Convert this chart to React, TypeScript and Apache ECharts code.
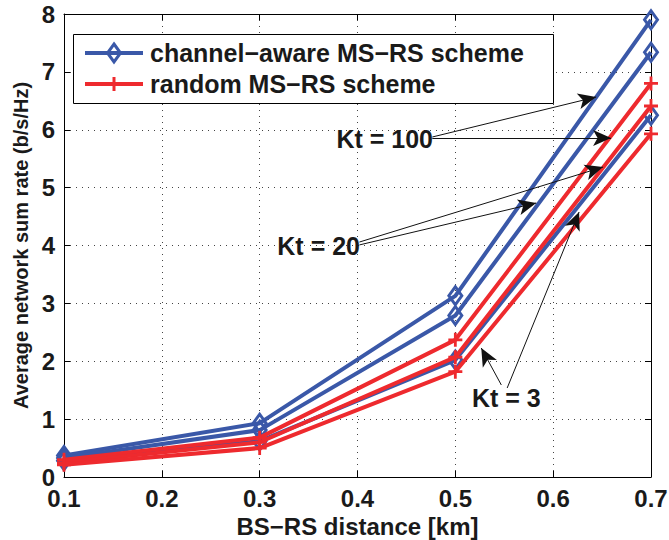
import React, { useEffect, useRef } from "react";
import * as echarts from "echarts";

const distances = [0.1, 0.3, 0.5, 0.7];
const awareKt100 = [0.37, 0.93, 3.13, 7.9];
const awareKt20 = [0.33, 0.81, 2.79, 7.34];
const awareKt3 = [0.28, 0.62, 2.02, 6.25];
const randomKt100 = [0.3, 0.68, 2.37, 6.8];
const randomKt20 = [0.25, 0.6, 2.07, 6.41];
const randomKt3 = [0.21, 0.5, 1.82, 5.93];

const xTicks = [0.1, 0.2, 0.3, 0.4, 0.5, 0.6, 0.7];
const yTicks = [0, 1, 2, 3, 4, 5, 6, 7, 8];

const legendNames = ["channel\u2212aware MS\u2212RS scheme", "random MS\u2212RS scheme"];

// annotation arrows: [fromX, fromY, toX, toY] in data space
const arrowsKt100 = [
  [0.4765, 5.875, 0.6439, 6.566],
  [0.4765, 5.857, 0.6592, 5.857],
];
const arrowsKt20 = [
  [0.402, 4.06, 0.651, 5.356],
  [0.402, 4.01, 0.5827, 4.734],
];
const arrowsKt3 = [
  [0.547, 1.59, 0.5265, 2.229],
  [0.553, 1.538, 0.6265, 4.579],
];
const annotationTexts = ["Kt = 100", "Kt = 20", "Kt = 3"];

const BLUE = "#3a58a8";
const RED = "#ee2a2e";
const FONT = "'Liberation Sans', Arial, sans-serif";
const PLUS = "path://M-1.2,-6H1.2V-1.2H6V1.2H1.2V6H-1.2V1.2H-6V-1.2H-1.2Z";

export default function App() {
  const ref = useRef<HTMLDivElement>(null);
  useEffect(() => {
    if (!ref.current) return;
    const chart = echarts.init(ref.current, null, { renderer: "svg" });
    const mk = (arr: number[]) => distances.map((d, i) => [d, arr[i]]);
    const blueSeries = (name: string, vals: number[]) => ({
      type: "line",
      name,
      data: mk(vals),
      symbol: "diamond",
      symbolSize: [13, 18],
      showSymbol: true,
      lineStyle: { color: BLUE, width: 4 },
      itemStyle: { color: "rgba(255,255,255,0)", borderColor: BLUE, borderWidth: 3 },
      z: 3,
    });
    const redSeries = (name: string, vals: number[]) => ({
      type: "line",
      name,
      data: mk(vals),
      symbol: PLUS,
      symbolSize: 14,
      lineStyle: { color: RED, width: 4 },
      itemStyle: { color: RED },
      z: 4,
    });
    const arrowLines = [...arrowsKt100, ...arrowsKt20, ...arrowsKt3].map((a) => [
      { coord: [a[0], a[1]] },
      { coord: [a[2], a[3]] },
    ]);
    const axisLabelStyle = { fontFamily: FONT, fontWeight: "bold", fontSize: 24, color: "#1a1a1a" };
    const option: any = {
      animation: false,
      backgroundColor: "#fff",
      grid: { left: 64, right: 18, top: 14, bottom: 63, outerBoundsMode: "none", containLabel: false },
      xAxis: [
        {
          type: "value",
          min: 0.1,
          max: 0.7,
          interval: 0.1,
          axisLine: { lineStyle: { color: "#000", width: 1 } },
          axisTick: { inside: true, length: 6, lineStyle: { color: "#000" } },
          axisLabel: { ...axisLabelStyle, margin: 11, lineHeight: 20, formatter: (v: number) => v.toFixed(1) },
          splitLine: { show: true, lineStyle: { color: "#444", type: [1, 5], width: 1 } },
          name: "BS\u2212RS distance [km]",
          nameLocation: "middle",
          nameGap: 34,
          nameTextStyle: { fontFamily: FONT, fontWeight: "bold", fontSize: 24, color: "#1a1a1a" },
        },
        {
          type: "value",
          position: "top",
          min: 0.1,
          max: 0.7,
          interval: 0.1,
          axisLine: { show: true, onZero: false, lineStyle: { color: "#000", width: 1 } },
          axisTick: { show: true, inside: true, length: 6, lineStyle: { color: "#000" } },
          axisLabel: { show: false },
          splitLine: { show: false },
        },
      ],
      yAxis: [
        {
          type: "value",
          min: 0,
          max: 8,
          interval: 1,
          axisLine: { show: true, lineStyle: { color: "#000", width: 1 } },
          axisTick: { show: true, inside: true, length: 6, lineStyle: { color: "#000" } },
          axisLabel: { ...axisLabelStyle, margin: 9, lineHeight: 18 },
          splitLine: { show: true, lineStyle: { color: "#444", type: [1, 5], width: 1 } },
          name: "Average network sum rate (b/s/Hz)",
          nameLocation: "middle",
          nameGap: 30,
          nameTextStyle: { fontFamily: FONT, fontWeight: "bold", fontSize: 20, color: "#1a1a1a" },
        },
        {
          type: "value",
          position: "right",
          min: 0,
          max: 8,
          interval: 1,
          axisLine: { show: true, onZero: false, lineStyle: { color: "#000", width: 1 } },
          axisTick: { show: true, inside: true, length: 6, lineStyle: { color: "#000" } },
          axisLabel: { show: false },
          splitLine: { show: false },
        },
      ],
      series: [
        blueSeries("aware100", awareKt100),
        blueSeries("aware20", awareKt20),
        blueSeries("aware3", awareKt3),
        redSeries("random100", randomKt100),
        redSeries("random20", randomKt20),
        redSeries("random3", randomKt3),
        {
          type: "line",
          name: "annotations",
          data: [],
          z: 10,
          markLine: {
            silent: true,
            symbol: ["none", "arrow"],
            symbolSize: [12, 18],
            label: { show: false },
            lineStyle: { color: "#111", width: 1, type: "solid" },
            itemStyle: { color: "#111" },
            data: arrowLines,
          },
        },
      ],
      graphic: [
        {
          type: "rect",
          shape: { x: 73.5, y: 34.5, width: 480, height: 69 },
          style: { fill: "#fff", stroke: "#000", lineWidth: 1 },
          z: 100,
        },
        { type: "line", shape: { x1: 85, y1: 53, x2: 143, y2: 53 }, style: { stroke: BLUE, lineWidth: 4 }, z: 101 },
        {
          type: "polygon",
          shape: { points: [[114, 44], [120.5, 53], [114, 62], [107.5, 53]] },
          style: { fill: "rgba(255,255,255,0)", stroke: BLUE, lineWidth: 3 },
          z: 102,
        },
        { type: "line", shape: { x1: 85, y1: 84, x2: 143, y2: 84 }, style: { stroke: RED, lineWidth: 4 }, z: 101 },
        { type: "line", shape: { x1: 114, y1: 77, x2: 114, y2: 91 }, style: { stroke: RED, lineWidth: 3 }, z: 102 },
        {
          type: "text",
          x: 150,
          y: 53,
          style: { text: legendNames[0], font: `bold 25px ${FONT}`, fill: "#1a1a1a", verticalAlign: "middle" },
          z: 102,
        },
        {
          type: "text",
          x: 150,
          y: 84,
          style: { text: legendNames[1], font: `bold 25px ${FONT}`, fill: "#1a1a1a", verticalAlign: "middle" },
          z: 102,
        },
        {
          type: "text",
          x: 433,
          y: 139,
          style: { text: annotationTexts[0], font: `bold 25px ${FONT}`, fill: "#1a1a1a", align: "right", verticalAlign: "middle" },
          z: 102,
        },
        {
          type: "text",
          x: 360,
          y: 246,
          style: { text: annotationTexts[1], font: `bold 25px ${FONT}`, fill: "#1a1a1a", align: "right", verticalAlign: "middle" },
          z: 102,
        },
        {
          type: "text",
          x: 472,
          y: 398,
          style: { text: annotationTexts[2], font: `bold 25px ${FONT}`, fill: "#1a1a1a", align: "left", verticalAlign: "middle" },
          z: 102,
        },
      ],
    };
    chart.setOption(option);
    return () => chart.dispose();
  }, []);
  return (
    <div
      ref={ref}
      style={{ width: 669, height: 540, position: "absolute", left: 0, top: 0 }}
    />
  );
}
